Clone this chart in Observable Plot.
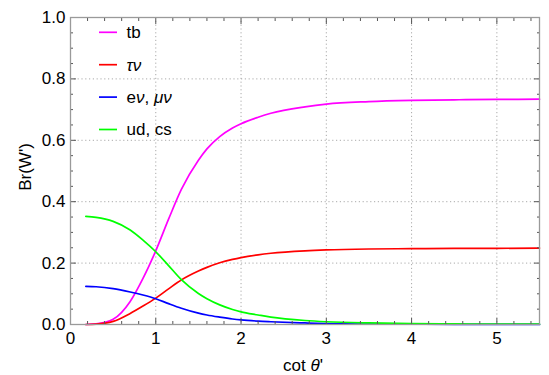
<!DOCTYPE html>
<html><head><meta charset="utf-8">
<script src="https://cdn.jsdelivr.net/npm/d3@7"></script>
<script src="https://cdn.jsdelivr.net/npm/@observablehq/plot@0.6"></script>
<style>body{margin:0;background:#fff} svg{display:block}</style>
</head><body><div id="chart"></div>
<script>
// cot θ' sample points
const cotTheta = [0.18, 0.3, 0.5, 0.7, 0.85, 1.0, 1.15, 1.3, 1.5, 1.6, 1.75, 1.9, 2.0, 2.2, 2.35, 2.75, 3.0, 3.5, 4.0, 4.5, 5.0, 5.5];
// Branching ratios
const brTB   = [0.0, 0.002, 0.017, 0.075, 0.15, 0.24, 0.343, 0.44, 0.535, 0.572, 0.612, 0.640, 0.654, 0.675, 0.688, 0.709, 0.718, 0.726, 0.730, 0.732, 0.733, 0.734];
const brTauNu= [0.0, 0.001, 0.010, 0.036, 0.06, 0.086, 0.116, 0.145, 0.174, 0.186, 0.201, 0.212, 0.218, 0.227, 0.232, 0.240, 0.243, 0.246, 0.247, 0.248, 0.248, 0.249];
const brLNu  = [0.124, 0.123, 0.117, 0.106, 0.096, 0.084, 0.068, 0.053, 0.037, 0.031, 0.024, 0.018, 0.015, 0.011, 0.009, 0.005, 0.003, 0.0015, 0.001, 0.0005, 0.0003, 0.0002];
const brUdCs = [0.352, 0.349, 0.336, 0.308, 0.275, 0.237, 0.192, 0.146, 0.101, 0.084, 0.064, 0.049, 0.041, 0.031, 0.024, 0.013, 0.009, 0.005, 0.003, 0.002, 0.001, 0.001];

const seriesKeys = ["tb", "taunu", "lnu", "udcs"];
const seriesColors = ["#ff00ff", "#ff0000", "#0000ff", "#00ff00"];

const xMajorTicks = [0, 1, 2, 3, 4, 5];
const xMinorTicks = [0.2, 0.4, 0.6, 0.8, 1.2, 1.4, 1.6, 1.8, 2.2, 2.4, 2.6, 2.8, 3.2, 3.4, 3.6, 3.8, 4.2, 4.4, 4.6, 4.8, 5.2, 5.4];
const yMajorTicks = [0, 0.2, 0.4, 0.6, 0.8, 1.0];
const yMinorTicks = [0.05, 0.1, 0.15, 0.25, 0.3, 0.35, 0.45, 0.5, 0.55, 0.65, 0.7, 0.75, 0.85, 0.9, 0.95];
const xGridLines = [1, 2, 3, 4, 5];
const yGridLines = [0.2, 0.4, 0.6, 0.8];

const seriesValues = [brTB, brTauNu, brLNu, brUdCs];
const rows = seriesKeys.flatMap((k, i) => cotTheta.map((x, j) => ({x, y: seriesValues[i][j], k})));

const tickColor = "#555";
const gridStyle = {stroke: "#aaaaaa", strokeOpacity: 1, strokeWidth: 1, strokeDasharray: "1.2,2.6"};
const font = "'Liberation Sans', Arial, Helvetica, sans-serif";

const svg = Plot.plot({
  width: 549, height: 375,
  marginLeft: 70, marginRight: 10, marginTop: 17, marginBottom: 51,
  style: {fontFamily: font, fontSize: "17px", background: "#fff", color: "#000"},
  x: {domain: [0, 5.5]},
  y: {domain: [0, 1]},
  color: {domain: seriesKeys, range: seriesColors},
  marks: [
    Plot.gridX(xGridLines, gridStyle),
    Plot.gridY(yGridLines, gridStyle),
    Plot.line(rows, {x: "x", y: "y", z: "k", stroke: "k", strokeWidth: 1.7, curve: "monotone-x"}),
    Plot.axisX(xMajorTicks, {anchor: "bottom", tickSize: -6, tickFormat: () => "", label: null, stroke: tickColor}),
    Plot.axisX(xMinorTicks, {anchor: "bottom", tickSize: -3, tickFormat: () => "", label: null, stroke: tickColor}),
    Plot.axisX(xMajorTicks, {anchor: "top", tickSize: -6, tickFormat: () => "", label: null, stroke: tickColor}),
    Plot.axisX(xMinorTicks, {anchor: "top", tickSize: -3, tickFormat: () => "", label: null, stroke: tickColor}),
    Plot.axisY(yMajorTicks, {anchor: "left", tickSize: -6, tickFormat: () => "", label: null, stroke: tickColor}),
    Plot.axisY(yMinorTicks, {anchor: "left", tickSize: -3, tickFormat: () => "", label: null, stroke: tickColor}),
    Plot.axisY(yMajorTicks, {anchor: "right", tickSize: -6, tickFormat: () => "", label: null, stroke: tickColor}),
    Plot.axisY(yMinorTicks, {anchor: "right", tickSize: -3, tickFormat: () => "", label: null, stroke: tickColor}),
    Plot.frame({stroke: "#9a9a9a", strokeWidth: 1.3}),
    Plot.text(xMajorTicks, {x: d => d, frameAnchor: "bottom", lineAnchor: "top", dy: 7, text: d => String(d), fontSize: 17, fill: "#000"}),
    Plot.text(yMajorTicks, {y: d => d, frameAnchor: "left", textAnchor: "end", lineAnchor: "middle", dx: -5, text: d => d.toFixed(1), fontSize: 17, fill: "#000"})
  ]
});

document.getElementById("chart").appendChild(svg);

// Axis titles and legend with mixed italic glyphs
const s = d3.select(svg);
const xt = s.append("text").attr("x", 303).attr("y", 370.5).attr("text-anchor", "middle")
  .style("font-family", font).style("font-size", "17px").attr("fill", "#000");
xt.append("tspan").text("cot ");
xt.append("tspan").attr("font-style", "italic").text("θ");
xt.append("tspan").text("'");

s.append("text").attr("transform", "translate(31,167) rotate(-90)").attr("text-anchor", "middle")
  .style("font-family", font).style("font-size", "17px").attr("fill", "#000").text("Br(W')");

const legendLabels = [
  [["tb", false]],
  [["τν", true]],
  [["e", false], ["ν", true], [", ", false], ["μν", true]],
  [["ud, cs", false]]
];
const leg = s.append("g").style("font-family", font).style("font-size", "17px").attr("text-anchor", "start");
legendLabels.forEach((parts, i) => {
  const yy = 32.3 + i * 32.4;
  leg.append("line").attr("x1", 99).attr("x2", 117).attr("y1", yy).attr("y2", yy)
    .attr("stroke", seriesColors[i]).attr("stroke-width", 1.7);
  const t = leg.append("text").attr("x", 126.5).attr("y", yy).attr("dy", "0.35em")
    .attr("text-anchor", "start").attr("fill", "#000");
  parts.forEach(([str, it]) => {
    const ts = t.append("tspan").text(str);
    if (it) ts.attr("font-style", "italic");
  });
});
</script>
</body></html>
